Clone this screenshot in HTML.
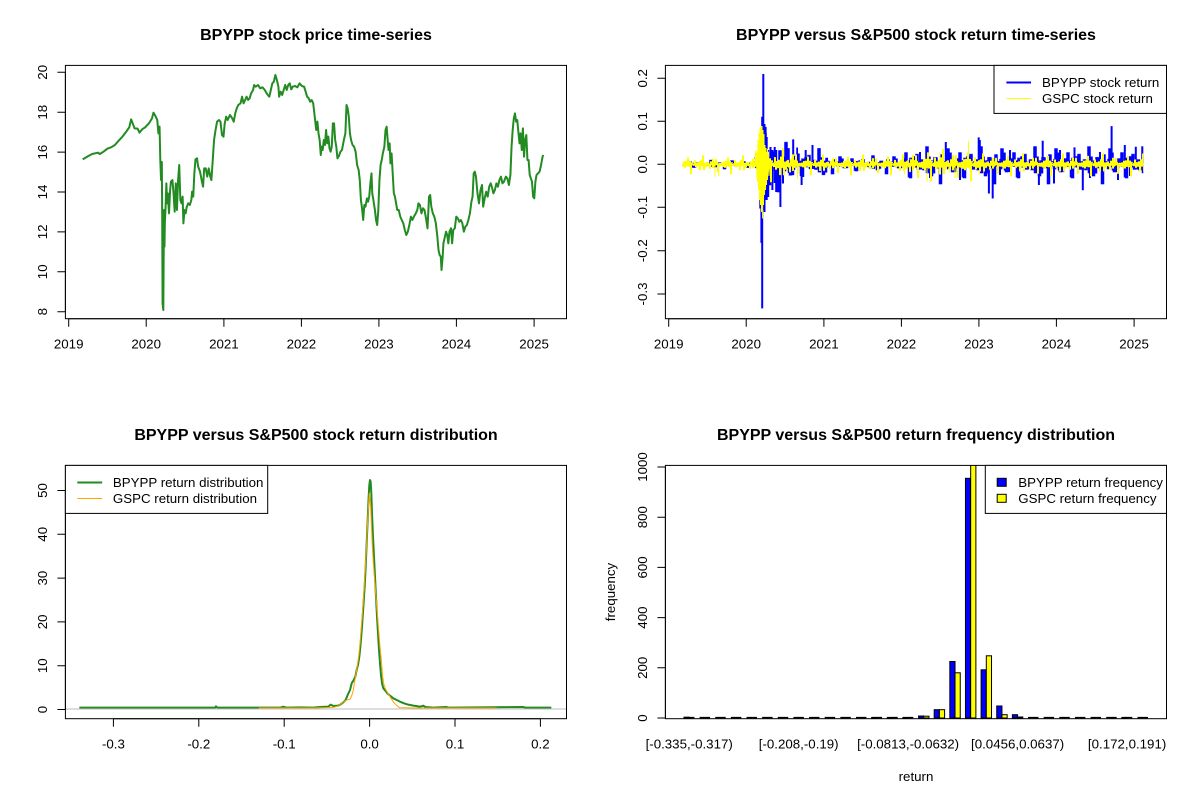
<!DOCTYPE html>
<html><head><meta charset="utf-8"><style>html,body{margin:0;padding:0;background:#fff}svg{display:block}</style></head>
<body>
<svg width="1200" height="800" viewBox="0 0 1200 800" xmlns="http://www.w3.org/2000/svg" font-family="'Liberation Sans', Arial, sans-serif" font-size="13.3">
<rect width="1200" height="800" fill="#fff"/>
<defs>
<clipPath id="c1"><rect x="65.4" y="65.4" width="501.1" height="253.3"/></clipPath>
<clipPath id="c2"><rect x="665.4" y="65.4" width="501.1" height="253.3"/></clipPath>
<clipPath id="c3"><rect x="65.4" y="465.4" width="501.1" height="253.3"/></clipPath>
<clipPath id="c4"><rect x="665.4" y="465.4" width="501.1" height="253.3"/></clipPath>
<pattern id="pb" patternUnits="userSpaceOnUse" x="0" y="-1.2" width="54" height="2.4">
<path d="M0.75,1.2V1.05 M2.25,1.05V1.3 M3.75,1.3V.95 M5.25,.95V1.5 M6.75,1.5V1.15 M8.25,1.15V.3 M9.75,.3V1.35 M11.25,1.35V1.1 M12.75,1.1V1.8 M14.25,1.8V1.0 M15.75,1.0V1.25 M17.25,1.25V.85 M18.75,.85V1.4 M20.25,1.4V1.1 M21.75,1.1V2.2 M23.25,2.2V.7 M24.75,.7V1.3 M26.25,1.3V1.05 M27.75,1.05V1.45 M29.25,1.45V.4 M30.75,.4V1.35 M32.25,1.35V1.15 M33.75,1.15V1.6 M35.25,1.6V1.1 M36.75,1.1V1.4 M38.25,1.4V.9 M39.75,.9V1.25 M41.25,1.25V.6 M42.75,.6V1.3 M44.25,1.3V1.0 M45.75,1.0V1.9 M47.25,1.9V1.15 M48.75,1.15V.95 M50.25,.95V1.35 M51.75,1.35V1.1 M53.25,1.1V1.2" fill="none" stroke="#0000ff" stroke-width="2"/>
</pattern>
<pattern id="py" patternUnits="userSpaceOnUse" x="0" y="-1.2" width="40" height="2.4">
<path d="M0.5,1.2V1.4 M1.5,1.4V1.05 M2.5,1.05V1.25 M3.5,1.25V.9 M4.5,.9V1.55 M5.5,1.55V1.1 M6.5,1.1V1.3 M7.5,1.3V.5 M8.5,.5V1.45 M9.5,1.45V1.15 M10.5,1.15V2.2 M11.5,2.2V1.0 M12.5,1.0V1.1 M13.5,1.1V1.35 M14.5,1.35V.8 M15.5,.8V1.5 M16.5,1.5V1.05 M17.5,1.05V1.25 M18.5,1.25V.95 M19.5,.95V1.8 M20.5,1.8V1.1 M21.5,1.1V1.4 M22.5,1.4V.3 M23.5,.3V1.3 M24.5,1.3V1.05 M25.5,1.05V1.5 M26.5,1.5V1.0 M27.5,1.0V1.35 M28.5,1.35V1.15 M29.5,1.15V1.65 M30.5,1.65V.9 M31.5,.9V1.3 M32.5,1.3V.65 M33.5,.65V1.4 M34.5,1.4V1.1 M35.5,1.1V1.25 M36.5,1.25V1.0 M37.5,1.0V2.0 M38.5,2.0V1.1 M39.5,1.1V1.2" fill="none" stroke="#ffff00" stroke-width="1"/>
</pattern>
</defs>

<!-- Titles -->
<g font-size="16" font-weight="bold" text-anchor="middle">
<text x="316" y="40">BPYPP stock price time-series</text>
<text x="916" y="40">BPYPP versus S&amp;P500 stock return time-series</text>
<text x="316" y="440">BPYPP versus S&amp;P500 stock return distribution</text>
<text x="916" y="440">BPYPP versus S&amp;P500 return frequency distribution</text>
</g>

<!-- ===== Panel 1: price ===== -->
<g clip-path="url(#c1)">
<polyline transform="translate(1.33,50) scale(0.3785,0.33333)" fill="none" stroke="#228B22" stroke-width="2" vector-effect="non-scaling-stroke" stroke-linejoin="round" points="215,328 230,318 240,312 255,308 260,312 270,305 280,296 290,292 300,285 310,272 320,260 330,245 338,232 343,208 347,220 352,235 360,236 365,248 372,238 380,232 390,220 398,205 402,188 408,200 412,210 415,250 418,230 420,330 422,390 424,336 425,490 426,760 428,780 429,600 430,480 431,590 432,520 434,470 436,400 438,460 440,430 443,490 446,420 448,395 452,390 455,430 458,485 461,400 464,480 467,390 470,345 473,450 476,460 479,440 481,520 484,480 487,490 490,470 494,460 498,465 502,450 504,425 507,440 510,370 513,328 517,325 520,350 525,365 530,395 533,410 536,355 540,355 544,380 548,355 552,380 555,390 558,340 562,270 566,240 570,215 575,210 579,215 583,255 587,260 590,222 594,200 598,210 604,195 610,205 614,215 618,190 622,175 626,165 632,160 636,140 640,160 644,150 648,140 652,150 656,145 660,130 665,120 668,105 672,110 678,105 684,115 690,112 696,120 700,128 704,135 708,140 712,120 716,100 720,95 724,75 728,90 732,110 734,140 738,125 742,135 746,120 750,105 754,120 758,105 762,100 766,118 770,110 776,108 782,112 788,100 794,108 800,110 804,125 808,140 812,145 816,155 820,150 824,160 826,180 829,210 832,240 835,215 838,250 841,270 844,315 846,290 849,300 852,270 855,285 858,240 861,280 864,260 867,295 870,305 873,290 876,220 879,220 882,270 885,290 888,325 892,318 896,305 900,300 905,270 909,250 912,165 915,175 918,200 921,250 924,270 928,285 932,290 936,305 940,345 944,360 947,390 950,450 953,475 956,510 959,465 962,470 966,445 969,455 972,440 975,400 978,370 980,430 983,450 987,480 990,510 993,525 996,480 999,390 1002,345 1005,330 1008,310 1012,290 1015,240 1018,230 1020,260 1023,300 1026,280 1028,340 1031,310 1034,370 1037,430 1040,440 1043,460 1046,480 1050,480 1054,500 1058,510 1062,520 1066,540 1070,555 1074,545 1078,525 1082,500 1086,510 1090,500 1095,490 1099,480 1102,460 1106,465 1110,490 1114,475 1118,480 1122,505 1126,535 1130,440 1133,435 1136,470 1140,490 1144,500 1148,520 1152,560 1155,600 1158,615 1161,620 1163,660 1166,620 1168,580 1172,560 1175,545 1178,555 1181,580 1184,545 1188,535 1191,580 1194,540 1198,535 1202,500 1206,505 1210,515 1214,510 1218,520 1222,545 1226,530 1230,525 1234,510 1238,490 1242,455 1245,440 1248,370 1251,365 1254,380 1258,430 1262,460 1266,420 1270,405 1273,470 1277,445 1281,425 1285,440 1289,410 1293,400 1297,415 1300,430 1304,420 1308,400 1312,410 1316,390 1320,380 1324,400 1328,395 1333,380 1337,385 1341,405 1345,375 1348,290 1351,240 1354,205 1357,190 1360,215 1363,210 1366,245 1369,280 1372,250 1375,300 1378,235 1381,320 1384,270 1387,255 1390,330 1393,330 1396,375 1399,385 1402,395 1405,440 1408,445 1411,395 1414,375 1418,370 1422,365 1426,345 1430,320 1432,315"/>
</g>
<rect x="65.4" y="65.4" width="501.1" height="253.3" fill="none" stroke="#000" stroke-width="1"/>
<g stroke="#000" stroke-width="1" fill="none">
<path d="M65.4,72.3V311.7 M65.4,72.3h-8 M65.4,112.2h-8 M65.4,152.1h-8 M65.4,192h-8 M65.4,231.9h-8 M65.4,271.8h-8 M65.4,311.7h-8"/>
<path d="M68.7,318.7H534.1 M68.7,318.7v8 M146.2,318.7v8 M223.9,318.7v8 M301.4,318.7v8 M378.9,318.7v8 M456.4,318.7v8 M534.1,318.7v8"/>
</g>
<g text-anchor="middle">
<text transform="translate(47,72.3) rotate(-90)">20</text>
<text transform="translate(47,112.2) rotate(-90)">18</text>
<text transform="translate(47,152.1) rotate(-90)">16</text>
<text transform="translate(47,192) rotate(-90)">14</text>
<text transform="translate(47,231.9) rotate(-90)">12</text>
<text transform="translate(47,271.8) rotate(-90)">10</text>
<text transform="translate(47,311.7) rotate(-90)">8</text>
<text x="68.7" y="348.3">2019</text>
<text x="146.2" y="348.3">2020</text>
<text x="223.9" y="348.3">2021</text>
<text x="301.4" y="348.3">2022</text>
<text x="378.9" y="348.3">2023</text>
<text x="456.4" y="348.3">2024</text>
<text x="534.1" y="348.3">2025</text>
</g>

<!-- ===== Panel 2: returns ===== -->
<g clip-path="url(#c2)">
<!-- blue band layer 1 -->
<g transform="translate(0,164.3) scale(1,5)"><rect x="682.7" y="-1.2" width="71.9" height="2.4" fill="url(#pb)"/></g>
<g transform="translate(0,164.3) scale(1,14)"><rect x="754.6" y="-1.2" width="5.7" height="2.4" fill="url(#pb)"/></g>
<g transform="translate(0,164.3) scale(1,35)"><rect x="760.3" y="-1.2" width="15.7" height="2.4" fill="url(#pb)"/></g>
<g transform="translate(0,164.3) scale(1,28)"><rect x="776" y="-1.2" width="22" height="2.4" fill="url(#pb)"/></g>
<g transform="translate(0,164.3) scale(1,18)"><rect x="798" y="-1.2" width="30" height="2.4" fill="url(#pb)"/></g>
<g transform="translate(0,164.3) scale(1,10)"><rect x="828" y="-1.2" width="76" height="2.4" fill="url(#pb)"/></g>
<g transform="translate(0,164.3) scale(1,20)"><rect x="904" y="-1.2" width="239.3" height="2.4" fill="url(#pb)"/></g>
<!-- blue band layer 2 -->
<g transform="translate(23,164.3) scale(1,3.3)"><rect x="659.7" y="-1.2" width="71.9" height="2.4" fill="url(#pb)"/></g>
<g transform="translate(23,164.3) scale(1,9)"><rect x="731.6" y="-1.2" width="5.7" height="2.4" fill="url(#pb)"/></g>
<g transform="translate(23,164.3) scale(1,23)"><rect x="737.3" y="-1.2" width="15.7" height="2.4" fill="url(#pb)"/></g>
<g transform="translate(23,164.3) scale(1,18)"><rect x="753" y="-1.2" width="22" height="2.4" fill="url(#pb)"/></g>
<g transform="translate(23,164.3) scale(1,11.7)"><rect x="775" y="-1.2" width="30" height="2.4" fill="url(#pb)"/></g>
<g transform="translate(23,164.3) scale(1,6.5)"><rect x="805" y="-1.2" width="76" height="2.4" fill="url(#pb)"/></g>
<g transform="translate(23,164.3) scale(1,13)"><rect x="881" y="-1.2" width="239.3" height="2.4" fill="url(#pb)"/></g>
<!-- blue band layer 3 -->
<g transform="translate(41,164.3) scale(1,2.3)"><rect x="641.7" y="-1.2" width="71.9" height="2.4" fill="url(#pb)"/></g>
<g transform="translate(41,164.3) scale(1,6.3)"><rect x="713.6" y="-1.2" width="5.7" height="2.4" fill="url(#pb)"/></g>
<g transform="translate(41,164.3) scale(1,16)"><rect x="719.3" y="-1.2" width="15.7" height="2.4" fill="url(#pb)"/></g>
<g transform="translate(41,164.3) scale(1,12.6)"><rect x="735" y="-1.2" width="22" height="2.4" fill="url(#pb)"/></g>
<g transform="translate(41,164.3) scale(1,8.1)"><rect x="757" y="-1.2" width="30" height="2.4" fill="url(#pb)"/></g>
<g transform="translate(41,164.3) scale(1,4.5)"><rect x="787" y="-1.2" width="76" height="2.4" fill="url(#pb)"/></g>
<g transform="translate(41,164.3) scale(1,9)"><rect x="863" y="-1.2" width="239.3" height="2.4" fill="url(#pb)"/></g>
<!-- blue spikes -->
<path fill="none" stroke="#0000ff" stroke-width="2" d="M760.3,137.4V208.5 M761.4,164.3V242.9 M762.2,116.7V308.4 M763.3,74V210 M764.5,124V212 M765.6,127V200 M766.7,137V200 M768.2,150V197 M770.5,147V183 M772.4,150V190 M774.7,147V183 M776.2,150V192 M780.4,164.3V207 M783,164.3V183.5 M793.2,139.4V164.3 M801.6,164.3V185 M805.7,150V164.3 M812.5,145V164.3 M920,152V164.3 M930,164.3V178 M945.8,142V164.3 M960,164.3V180 M978.7,137.4V164.3 M979.8,140V164.3 M988.9,164.3V193.5 M992.7,164.3V198.5 M1000,164.3V175 M1010,150V164.3 M1038.9,164.3V185 M1042.7,140.8V164.3 M1054,164.3V183.5 M1060,150V164.3 M1074.5,147.4V164.3 M1082.8,164.3V190.2 M1090,164.3V178 M1100,152V164.3 M1111.6,126.1V164.3 M1118,164.3V180 M1124.8,145V164.3 M1130,164.3V176 M1135.8,146.8V164.3"/>
<!-- yellow band layer 1 -->
<g transform="translate(0,164.3) scale(1,10)"><rect x="682.7" y="-1.2" width="71.9" height="2.4" fill="url(#py)"/></g>
<g transform="translate(0,164.3) scale(1,22)"><rect x="754.6" y="-1.2" width="13.4" height="2.4" fill="url(#py)"/></g>
<g transform="translate(0,164.3) scale(1,18)"><rect x="768" y="-1.2" width="30" height="2.4" fill="url(#py)"/></g>
<g transform="translate(0,164.3) scale(1,11)"><rect x="798" y="-1.2" width="106" height="2.4" fill="url(#py)"/></g>
<g transform="translate(0,164.3) scale(1,17)"><rect x="904" y="-1.2" width="76" height="2.4" fill="url(#py)"/></g>
<g transform="translate(0,164.3) scale(1,12)"><rect x="980" y="-1.2" width="163.3" height="2.4" fill="url(#py)"/></g>
<!-- yellow band layer 2 -->
<g transform="translate(13,164.3) scale(1,6)"><rect x="669.7" y="-1.2" width="71.9" height="2.4" fill="url(#py)"/></g>
<g transform="translate(13,164.3) scale(1,13)"><rect x="741.6" y="-1.2" width="13.4" height="2.4" fill="url(#py)"/></g>
<g transform="translate(13,164.3) scale(1,11)"><rect x="755" y="-1.2" width="30" height="2.4" fill="url(#py)"/></g>
<g transform="translate(13,164.3) scale(1,6.6)"><rect x="785" y="-1.2" width="106" height="2.4" fill="url(#py)"/></g>
<g transform="translate(13,164.3) scale(1,10)"><rect x="891" y="-1.2" width="76" height="2.4" fill="url(#py)"/></g>
<g transform="translate(13,164.3) scale(1,7.2)"><rect x="967" y="-1.2" width="163.3" height="2.4" fill="url(#py)"/></g>
<!-- yellow band layer 3 -->
<g transform="translate(27,164.3) scale(1,3.5)"><rect x="655.7" y="-1.2" width="71.9" height="2.4" fill="url(#py)"/></g>
<g transform="translate(27,164.3) scale(1,8)"><rect x="727.6" y="-1.2" width="13.4" height="2.4" fill="url(#py)"/></g>
<g transform="translate(27,164.3) scale(1,6.3)"><rect x="741" y="-1.2" width="30" height="2.4" fill="url(#py)"/></g>
<g transform="translate(27,164.3) scale(1,3.9)"><rect x="771" y="-1.2" width="106" height="2.4" fill="url(#py)"/></g>
<g transform="translate(27,164.3) scale(1,6)"><rect x="877" y="-1.2" width="76" height="2.4" fill="url(#py)"/></g>
<g transform="translate(27,164.3) scale(1,4.2)"><rect x="953" y="-1.2" width="163.3" height="2.4" fill="url(#py)"/></g>
<path fill="none" stroke="#ffff00" stroke-width="1" d="M755,164.3 L756,150 L757,178 L758,140 L758.5,190 L759,133 L759.5,200 L760,128 L760.5,205 L761,126 L761.5,212 L762,126 L762.6,218.5 L763,130 L763.5,205 L764,134 L764.5,195 L765,145 L765.5,190 L766,148 L766.5,185 L767,152 L767.5,180 L768,155 L769,176 L770,158 L771,172 L772,160 M714.9,164.3V176.7 M718.7,164.3V176 M927,164.3V181.7 M968.5,140.7V164.3 M940,152V164.3 M955,164.3V178"/>
</g>
<rect x="665.4" y="65.4" width="501.1" height="253.3" fill="none" stroke="#000" stroke-width="1"/>
<g stroke="#000" stroke-width="1" fill="none">
<path d="M665.4,78.3V294 M665.4,78.3h-8 M665.4,121.3h-8 M665.4,164.3h-8 M665.4,207.3h-8 M665.4,250.7h-8 M665.4,294h-8"/>
<path d="M668.7,318.7H1134.1 M668.7,318.7v8 M746.2,318.7v8 M823.9,318.7v8 M901.4,318.7v8 M978.9,318.7v8 M1056.4,318.7v8 M1134.1,318.7v8"/>
</g>
<g text-anchor="middle">
<text transform="translate(647,78.3) rotate(-90)">0.2</text>
<text transform="translate(647,121.3) rotate(-90)">0.1</text>
<text transform="translate(647,164.3) rotate(-90)">0.0</text>
<text transform="translate(647,207.3) rotate(-90)">-0.1</text>
<text transform="translate(647,250.7) rotate(-90)">-0.2</text>
<text transform="translate(647,294) rotate(-90)">-0.3</text>
<text x="668.7" y="348.3">2019</text>
<text x="746.2" y="348.3">2020</text>
<text x="823.9" y="348.3">2021</text>
<text x="901.4" y="348.3">2022</text>
<text x="978.9" y="348.3">2023</text>
<text x="1056.4" y="348.3">2024</text>
<text x="1134.1" y="348.3">2025</text>
</g>
<!-- legend 2 -->
<rect x="994" y="65.4" width="172.5" height="48" fill="#fff" stroke="#000" stroke-width="1"/>
<path d="M1006.4,82.5H1031" stroke="#0000ff" stroke-width="2"/>
<path d="M1006.4,98.5H1031" stroke="#ffff00" stroke-width="1"/>
<text x="1042" y="87">BPYPP stock return</text>
<text x="1042" y="103">GSPC stock return</text>

<!-- ===== Panel 3: density ===== -->
<g clip-path="url(#c3)">
<polyline transform="translate(280,470) scale(0.33333)" fill="none" stroke="#228B22" stroke-width="2" vector-effect="non-scaling-stroke" stroke-linejoin="round" points="-602,713 -195,713 -192,709 -188,713 0,713 10,710 20,713 60,712 100,713 120,711 145,710 152,704 160,708 175,707 182,703 190,697 197,690 203,675 210,660 215,640 220,632 226,620 230,600 234,585 238,560 242,520 246,470 250,410 254,350 257,290 260,220 263,150 266,80 268,45 270,30 272,35 274,70 276,130 279,200 282,260 285,320 288,380 291,440 294,490 297,540 300,580 303,615 306,640 310,655 316,662 322,670 330,677 340,685 350,690 360,695 372,700 385,704 400,707 420,710 430,707 436,711 460,713 499,711 505,713 730,711 736,713 814,713"/>
<polyline transform="translate(280,470) scale(0.33333)" fill="none" stroke="#FFA500" stroke-width="1" vector-effect="non-scaling-stroke" stroke-linejoin="round" points="-64,714 100,714 140,713 160,712 175,708 190,696 200,690 210,688 216,675 220,660 224,635 230,600 236,560 240,520 244,470 248,420 252,360 256,290 260,220 263,150 266,100 268,70 270,90 272,110 274,160 277,230 280,280 284,330 288,380 292,430 296,480 300,530 304,570 308,620 312,645 318,660 325,672 333,685 342,698 350,706 358,713 400,714 500,714 650,714"/>
<path d="M65.4,709H566.5" stroke="#BEBEBE" stroke-width="1"/>
</g>
<rect x="65.4" y="465.4" width="501.1" height="253.3" fill="none" stroke="#000" stroke-width="1"/>
<g stroke="#000" stroke-width="1" fill="none">
<path d="M65.4,490.5V709.5 M65.4,490.5h-8 M65.4,534.3h-8 M65.4,578.1h-8 M65.4,621.9h-8 M65.4,665.7h-8 M65.4,709.5h-8"/>
<path d="M113.4,718.7H540.4 M113.4,718.7v8 M198.8,718.7v8 M284.2,718.7v8 M369.6,718.7v8 M455,718.7v8 M540.4,718.7v8"/>
</g>
<g text-anchor="middle">
<text transform="translate(47,490.5) rotate(-90)">50</text>
<text transform="translate(47,534.3) rotate(-90)">40</text>
<text transform="translate(47,578.1) rotate(-90)">30</text>
<text transform="translate(47,621.9) rotate(-90)">20</text>
<text transform="translate(47,665.7) rotate(-90)">10</text>
<text transform="translate(47,709.5) rotate(-90)">0</text>
<text x="113.4" y="748.3">-0.3</text>
<text x="198.8" y="748.3">-0.2</text>
<text x="284.2" y="748.3">-0.1</text>
<text x="369.6" y="748.3">0.0</text>
<text x="455" y="748.3">0.1</text>
<text x="540.4" y="748.3">0.2</text>
</g>
<!-- legend 3 -->
<rect x="65.4" y="465.4" width="202.3" height="48" fill="#fff" stroke="#000" stroke-width="1"/>
<path d="M77.3,482.5H102.2" stroke="#228B22" stroke-width="2"/>
<path d="M77.3,498.5H102.2" stroke="#FFA500" stroke-width="1"/>
<text x="112.9" y="487">BPYPP return distribution</text>
<text x="112.9" y="503">GSPC return distribution</text>

<!-- ===== Panel 4: bars ===== -->
<g clip-path="url(#c4)" stroke="#000" stroke-width="1">
<path fill="none" stroke-width="1.5" d="M683.96,717.6h10.43 M699.6,717.6h10.43 M715.24,717.6h10.43 M730.88,717.6h10.43 M746.52,717.6h10.43 M762.16,717.6h10.43 M777.79,717.6h10.43 M793.43,717.6h10.43 M809.07,717.6h10.43 M824.71,717.6h10.43 M840.35,717.6h10.43 M855.99,717.6h10.43 M871.63,717.6h10.43 M887.27,717.6h10.43 M902.91,717.6h10.43 M1028.02,717.6h10.43 M1043.66,717.6h10.43 M1059.3,717.6h10.43 M1074.94,717.6h10.43 M1090.57,717.6h10.43 M1106.21,717.6h10.43 M1121.85,717.6h10.43 M1137.49,717.6h10.43"/>
<rect x="683.96" y="717.2" width="5.21" height="0.8" fill="#0000ff"/>
<rect x="871.63" y="717.5" width="5.21" height="0.5" fill="#0000ff"/>
<rect x="887.27" y="717.5" width="5.21" height="0.5" fill="#0000ff"/>
<rect x="902.91" y="717.5" width="5.21" height="0.5" fill="#0000ff"/>
<rect x="1121.85" y="717.5" width="5.21" height="0.5" fill="#0000ff"/>
<rect x="918.55" y="716" width="5.21" height="2" fill="#0000ff"/>
<rect x="923.76" y="716.2" width="5.21" height="1.8" fill="#ffff00"/>
<rect x="934.18" y="709.7" width="5.21" height="8.3" fill="#0000ff"/>
<rect x="939.39" y="709.7" width="5.21" height="8.3" fill="#ffff00"/>
<rect x="949.82" y="661.5" width="5.21" height="56.5" fill="#0000ff"/>
<rect x="955.03" y="672.8" width="5.21" height="45.2" fill="#ffff00"/>
<rect x="965.46" y="478.3" width="5.21" height="239.7" fill="#0000ff"/>
<rect x="970.67" y="464" width="5.21" height="254" fill="#ffff00"/>
<rect x="981.1" y="669.8" width="5.21" height="48.2" fill="#0000ff"/>
<rect x="986.31" y="655.8" width="5.21" height="62.2" fill="#ffff00"/>
<rect x="996.74" y="706" width="5.21" height="12" fill="#0000ff"/>
<rect x="1001.95" y="714.7" width="5.21" height="3.3" fill="#ffff00"/>
<rect x="1012.38" y="714.7" width="5.21" height="3.3" fill="#0000ff"/>
<rect x="1017.59" y="717" width="5.21" height="1" fill="#ffff00"/>
</g>
<rect x="665.4" y="465.4" width="501.1" height="253.3" fill="none" stroke="#000" stroke-width="1"/>
<g stroke="#000" stroke-width="1" fill="none">
<path d="M665.4,467V718 M665.4,467h-8 M665.4,517.2h-8 M665.4,567.4h-8 M665.4,617.6h-8 M665.4,667.8h-8 M665.4,718h-8"/>
</g>
<g text-anchor="middle">
<text transform="translate(647,467) rotate(-90)">1000</text>
<text transform="translate(647,517.2) rotate(-90)">800</text>
<text transform="translate(647,567.4) rotate(-90)">600</text>
<text transform="translate(647,617.6) rotate(-90)">400</text>
<text transform="translate(647,667.8) rotate(-90)">200</text>
<text transform="translate(647,718) rotate(-90)">0</text>
<text x="689.2" y="748.3">[-0.335,-0.317)</text>
<text x="798.7" y="748.3">[-0.208,-0.19)</text>
<text x="908.1" y="748.3">[-0.0813,-0.0632)</text>
<text x="1017.6" y="748.3">[0.0456,0.0637)</text>
<text x="1127.1" y="748.3">[0.172,0.191)</text>
<text x="916" y="781">return</text>
<text transform="translate(615,592) rotate(-90)">frequency</text>
</g>
<!-- legend 4 -->
<rect x="985.3" y="465.4" width="181.2" height="48" fill="#fff" stroke="#000" stroke-width="1"/>
<rect x="997.2" y="478.3" width="9" height="8" fill="#0000ff" stroke="#000" stroke-width="1"/>
<rect x="997.2" y="494.3" width="9" height="8" fill="#ffff00" stroke="#000" stroke-width="1"/>
<text x="1018.3" y="487">BPYPP return frequency</text>
<text x="1018.3" y="503">GSPC return frequency</text>
</svg>
</body></html>
